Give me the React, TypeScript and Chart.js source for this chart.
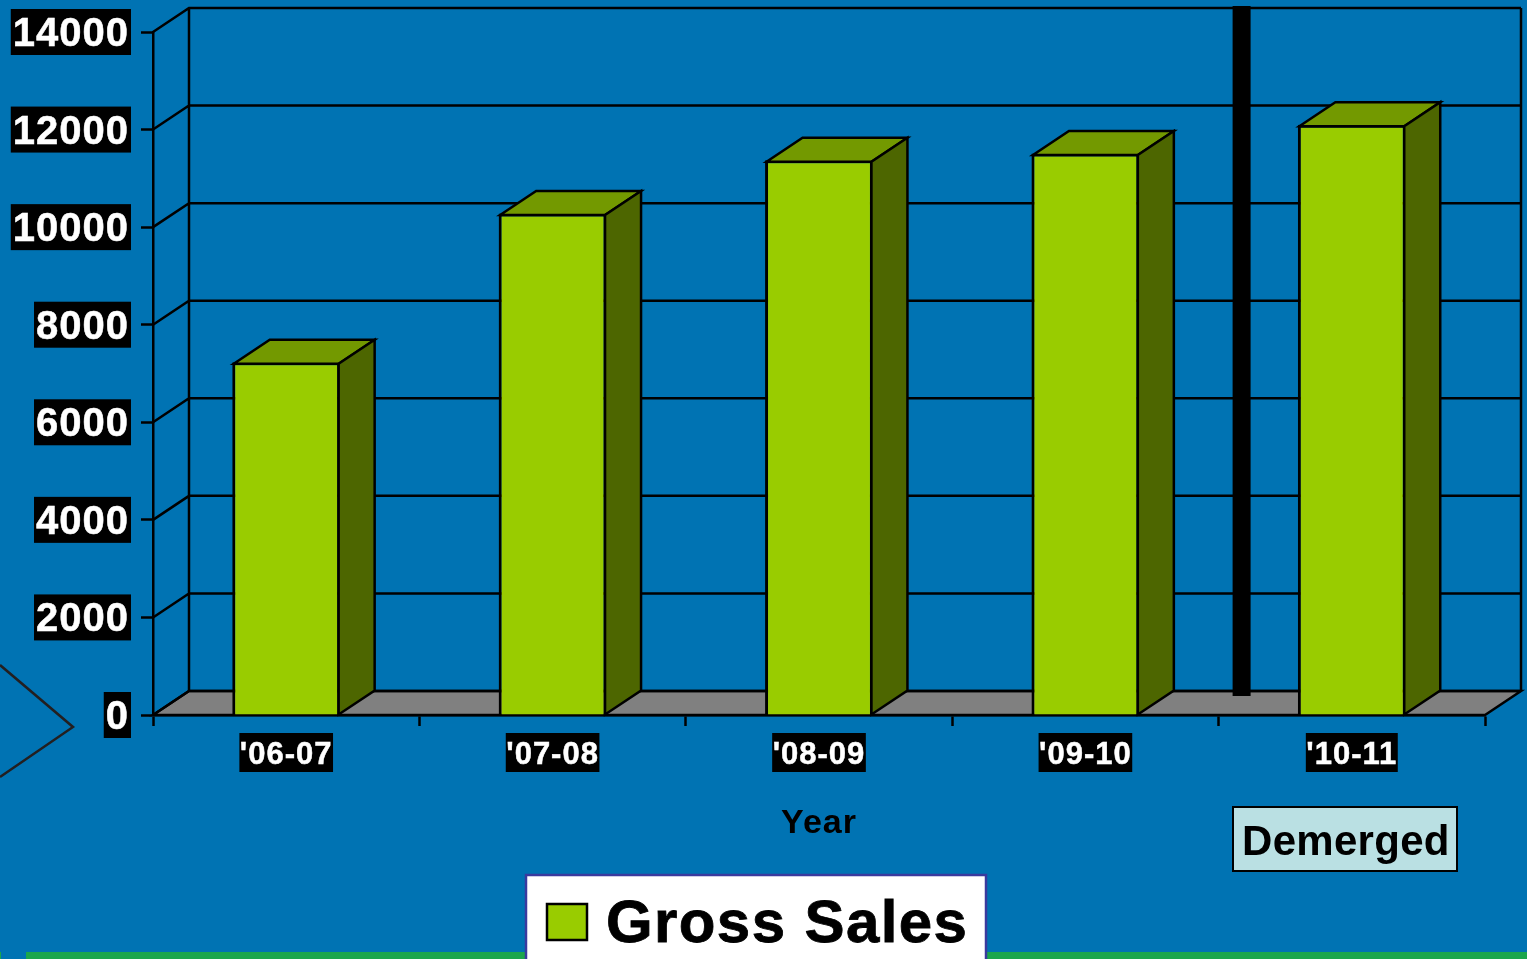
import React, { useEffect, useRef } from "react";
import { Chart, registerables } from "chart.js";

Chart.register(...registerables);

const years = ["'06-07", "'07-08", "'08-09", "'09-10", "'10-11"];
const grossSales = [7230, 10280, 11370, 11510, 12100];
const seriesName = "Gross Sales";
const noteText = "Demerged";
const yearTitle = "Year";

const FONT = '"Liberation Sans", Arial, sans-serif';
const BLUE = "#0073B3";
const GREEN_STRIP = "#1BA64C";
const BAR_FRONT = "#99CC00";
const BAR_TOP = "#739900";
const BAR_SIDE = "#4D6600";
const FLOOR = "#808080";
const INK = "#000000";
const DEPTH_X = 36;
const DEPTH_Y = 24;
const LINE = 2.5;

const polygon = (ctx: CanvasRenderingContext2D, pts: number[][], fill: string) => {
  ctx.beginPath();
  pts.forEach(([x, y], i) => (i ? ctx.lineTo(x, y) : ctx.moveTo(x, y)));
  ctx.closePath();
  ctx.fillStyle = fill;
  ctx.fill();
  ctx.stroke();
};

// Slide backdrop: flat blue, footer strip and the decorative chevron at the left edge.
const slideBackdrop = {
  id: "slideBackdrop",
  beforeUpdate(chart: any) {
    chart.ctx.letterSpacing = "1px";
  },
  beforeDraw(chart: any) {
    const { ctx, width, height } = chart;
    ctx.letterSpacing = "1px";
    ctx.save();
    ctx.fillStyle = BLUE;
    ctx.fillRect(0, 0, width, height);
    ctx.fillStyle = GREEN_STRIP;
    ctx.fillRect(26, height - 7, width - 26, 7);
    ctx.fillRect(0, height - 7, 1, 7);
    ctx.strokeStyle = "#231F20";
    ctx.lineWidth = 2.5;
    ctx.beginPath();
    ctx.moveTo(0, 665);
    ctx.lineTo(73, 727);
    ctx.lineTo(0, 777);
    ctx.stroke();
    ctx.restore();
  },
};

// Back wall, floor and the separator for the demerger year.
const box3d = {
  id: "box3d",
  beforeDatasetsDraw(chart: any) {
    const { ctx, chartArea: a, scales } = chart;
    const y = scales.y;
    const x = scales.x;
    ctx.save();
    ctx.strokeStyle = INK;
    ctx.lineWidth = LINE;
    const backLeft = a.left + DEPTH_X;
    const backRight = a.right + DEPTH_X;
    polygon(
      ctx,
      [
        [a.left, a.bottom],
        [backLeft, a.bottom - DEPTH_Y],
        [backRight, a.bottom - DEPTH_Y],
        [a.right, a.bottom],
      ],
      FLOOR
    );
    ctx.beginPath();
    y.ticks.forEach((t: any) => {
      const py = y.getPixelForValue(t.value);
      ctx.moveTo(a.left, py);
      ctx.lineTo(backLeft, py - DEPTH_Y);
      ctx.lineTo(backRight, py - DEPTH_Y);
    });
    ctx.moveTo(backLeft, a.top - DEPTH_Y);
    ctx.lineTo(backLeft, a.bottom - DEPTH_Y);
    ctx.moveTo(backRight, a.top - DEPTH_Y);
    ctx.lineTo(backRight, a.bottom - DEPTH_Y);
    ctx.stroke();
    const divide = (x.getPixelForValue(3) + x.getPixelForValue(4)) / 2 + 23;
    ctx.fillStyle = INK;
    ctx.fillRect(divide - 9, a.top - 26, 18, a.bottom - a.top + 7);
    ctx.restore();
  },
  afterDatasetsDraw(chart: any) {
    const { ctx } = chart;
    const bars = chart.getDatasetMeta(0).data;
    ctx.save();
    ctx.strokeStyle = INK;
    ctx.lineWidth = LINE;
    ctx.lineJoin = "miter";
    bars.forEach((b: any) => {
      const l = b.x - b.width / 2 + 1.5;
      const r = b.x + b.width / 2 - 1.5;
      const top = b.y + 1.5;
      const base = b.base;
      polygon(
        ctx,
        [
          [l, top],
          [l + DEPTH_X, top - DEPTH_Y],
          [r + DEPTH_X, top - DEPTH_Y],
          [r, top],
        ],
        BAR_TOP
      );
      polygon(
        ctx,
        [
          [r, top],
          [r + DEPTH_X, top - DEPTH_Y],
          [r + DEPTH_X, base - DEPTH_Y],
          [r, base],
        ],
        BAR_SIDE
      );
    });
    ctx.restore();
  },
};

// Series key and the boxed note beneath the last category.
const annotations = {
  id: "annotations",
  afterDraw(chart: any) {
    const { ctx } = chart;
    const ds = chart.data.datasets[0];
    ctx.save();
    ctx.textBaseline = "alphabetic";
    ctx.textAlign = "left";

    ctx.fillStyle = "#FFFFFF";
    ctx.strokeStyle = "#3A3A9E";
    ctx.lineWidth = 2.5;
    ctx.fillRect(526, 875, 460, 90);
    ctx.strokeRect(526, 875, 460, 90);

    ctx.fillStyle = ds.backgroundColor;
    ctx.strokeStyle = INK;
    ctx.lineWidth = 2.5;
    ctx.fillRect(547, 904, 40, 36);
    ctx.strokeRect(547, 904, 40, 36);

    ctx.fillStyle = INK;
    ctx.strokeStyle = INK;
    ctx.lineWidth = 0.8;
    ctx.letterSpacing = "1.4px";
    ctx.font = `bold 60px ${FONT}`;
    ctx.fillText(ds.label, 606, 942);
    ctx.strokeText(ds.label, 606, 942);

    ctx.fillStyle = "#BAE0E3";
    ctx.lineWidth = 2;
    ctx.fillRect(1233, 807, 224, 64);
    ctx.strokeRect(1233, 807, 224, 64);
    ctx.fillStyle = INK;
    ctx.letterSpacing = "0.3px";
    ctx.font = `bold 42px ${FONT}`;
    ctx.fillText(noteText, 1242, 855);
    ctx.restore();
  },
};

export default function App() {
  const ref = useRef<HTMLCanvasElement | null>(null);

  useEffect(() => {
    if (!ref.current) return;
    const chart = new Chart(ref.current, {
      type: "bar",
      data: {
        labels: years,
        datasets: [
          {
            label: seriesName,
            data: grossSales,
            backgroundColor: BAR_FRONT,
            borderColor: INK,
            borderWidth: 3,
            categoryPercentage: 1,
            barPercentage: 0.405,
          },
        ],
      },
      plugins: [slideBackdrop, box3d, annotations],
      options: {
        responsive: false,
        animation: false,
        layout: {
          autoPadding: false,
          padding: { left: 0, top: 32, right: 42, bottom: 0 },
        },
        plugins: {
          legend: { display: false },
          title: { display: false },
          tooltip: { enabled: false },
        },
        scales: {
          x: {
            afterFit: (s: any) => {
              s.height = 244;
            },
            grid: {
              drawOnChartArea: false,
              drawTicks: true,
              tickLength: 11,
              tickColor: INK,
              tickWidth: 2.5,
            },
            border: { display: true, color: INK, width: 2.5 },
            ticks: {
              color: "#FFFFFF",
              textStrokeColor: "#FFFFFF",
              textStrokeWidth: 0.5,
              font: { family: FONT, size: 31, weight: "bold", lineHeight: 39 / 31 },
              padding: 10,
              maxRotation: 0,
              autoSkip: false,
              showLabelBackdrop: true,
              backdropColor: INK,
              backdropPadding: { top: 3, bottom: -3, left: 0.5, right: 0.5 },
            },
            title: {
              display: true,
              text: yearTitle,
              color: INK,
              font: { family: FONT, size: 34, weight: "bold" },
              padding: { top: 0, bottom: 115 },
            },
          },
          y: {
            min: 0,
            max: 14000,
            afterFit: (s: any) => {
              s.width = 153;
              s.paddingTop = 0;
              s.paddingBottom = 0;
            },
            grid: {
              drawOnChartArea: false,
              drawTicks: true,
              tickLength: 12,
              tickColor: INK,
              tickWidth: 2.5,
            },
            border: { display: true, color: INK, width: 2.5 },
            ticks: {
              stepSize: 2000,
              color: "#FFFFFF",
              textStrokeColor: "#FFFFFF",
              textStrokeWidth: 0.5,
              callback: (v: any) => String(v),
              font: { family: FONT, size: 40, weight: "bold", lineHeight: 46 / 40 },
              padding: 12,
              labelOffset: 3,
              showLabelBackdrop: true,
              backdropColor: INK,
              backdropPadding: { top: 3, bottom: -3, left: 2, right: 2 },
            },
          },
        },
      } as any,
    });
    return () => chart.destroy();
  }, []);

  return (
    <div style={{ position: "fixed", left: 0, top: 0, width: 1527, height: 959, overflow: "hidden", background: BLUE }}>
      <canvas ref={ref} width={1527} height={959} style={{ display: "block" }} />
    </div>
  );
}
